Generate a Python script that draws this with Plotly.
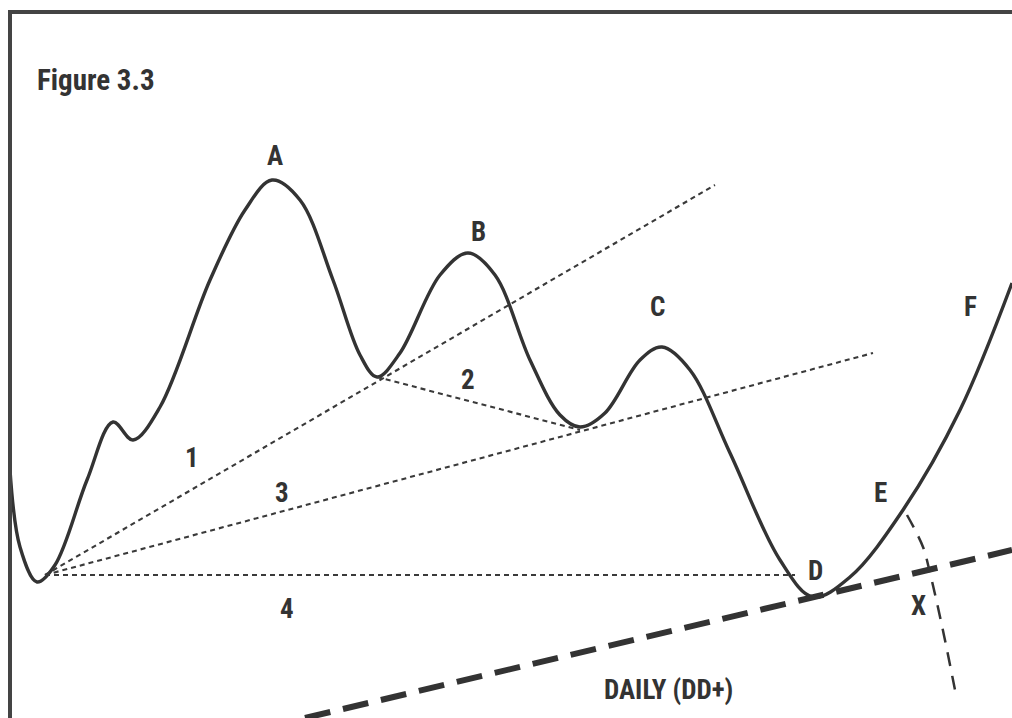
import plotly.graph_objects as go

# Main price path (pixel-like units; y grows downward)
curve_x = [10, 20, 37, 55, 87, 113, 133, 160, 210, 245, 272, 300, 333, 360, 377, 400, 440, 468, 495, 530, 560, 580, 605, 640, 662, 690, 730, 780, 813, 850, 903, 960, 1012]
curve_y = [470, 547, 582, 565, 480, 422, 440, 407, 280, 210, 180, 200, 280, 355, 377, 353, 275, 253, 275, 360, 415, 427, 413, 360, 347, 370, 453, 560, 597, 577, 510, 410, 283]

# Thin dotted trend lines
line1_x = [45, 715]
line1_y = [575, 185]
line2_x = [377, 580]
line2_y = [377, 430]
line3_x = [45, 873]
line3_y = [575, 353]
line4_x = [45, 795]
line4_y = [575, 575]

# Thick daily trend line
daily_x = [305, 1012]
daily_y = [718, 550]

# Curved dashed projection from E
arc_x = [907, 923, 930, 937, 946, 955]
arc_y = [515, 547, 573, 603, 645, 690]

# Labels
label_text = ["A", "B", "C", "D", "E", "F", "X", "1", "2", "3", "4"]
label_x = [275, 478, 657, 815, 880, 970, 918, 192, 468, 282, 287]
label_y = [156, 232, 307, 571, 493, 307, 606, 458, 380, 493, 609]

ink = "#333333"
font_family = "Liberation Sans Narrow, Arial Narrow, Roboto Condensed, Liberation Sans, Arial"

fig = go.Figure()
fig.add_trace(go.Scatter(x=curve_x, y=curve_y, mode="lines",
                         line=dict(color=ink, width=3.4, shape="spline", smoothing=1.0)))
thin = dict(color="#3a3a3a", width=2.1, dash="5px,4px")
for xs, ys in [(line1_x, line1_y), (line2_x, line2_y), (line3_x, line3_y), (line4_x, line4_y)]:
    fig.add_trace(go.Scatter(x=xs, y=ys, mode="lines", line=thin))
fig.add_trace(go.Scatter(x=daily_x, y=daily_y, mode="lines",
                         line=dict(color=ink, width=6, dash="26px,13px")))
fig.add_trace(go.Scatter(x=arc_x, y=arc_y, mode="lines",
                         line=dict(color=ink, width=2.5, dash="14px,10px", shape="spline")))

for t, x, y in zip(label_text, label_x, label_y):
    fig.add_annotation(x=x, y=y, text="<b>%s</b>" % t, showarrow=False,
                       font=dict(family=font_family, size=27, color=ink))
fig.add_annotation(x=668, y=690, text="<b>DAILY (DD+)</b>", showarrow=False,
                   font=dict(family=font_family, size=27, color=ink))
fig.add_annotation(x=35, y=80, text="<b>Figure 3.3</b>", showarrow=False, xanchor="left",
                   font=dict(family=font_family, size=29, color=ink))

# frame
fig.add_shape(type="line", x0=10, y0=12, x1=10, y1=718, line=dict(color="#444444", width=4))
fig.add_shape(type="line", x0=8, y0=12, x1=1012, y1=12, line=dict(color="#444444", width=4))

fig.update_layout(width=1012, height=718, margin=dict(l=0, r=0, t=0, b=0),
                  paper_bgcolor="white", plot_bgcolor="white", showlegend=False)
fig.update_xaxes(range=[0, 1012], visible=False)
fig.update_yaxes(range=[718, 0], visible=False)

# remove the default page margin so the figure fills the window exactly
post = "document.body.style.margin='0';document.body.style.overflow='hidden';"
fig.write_html("out.html", post_script=post, config={"displayModeBar": False})
